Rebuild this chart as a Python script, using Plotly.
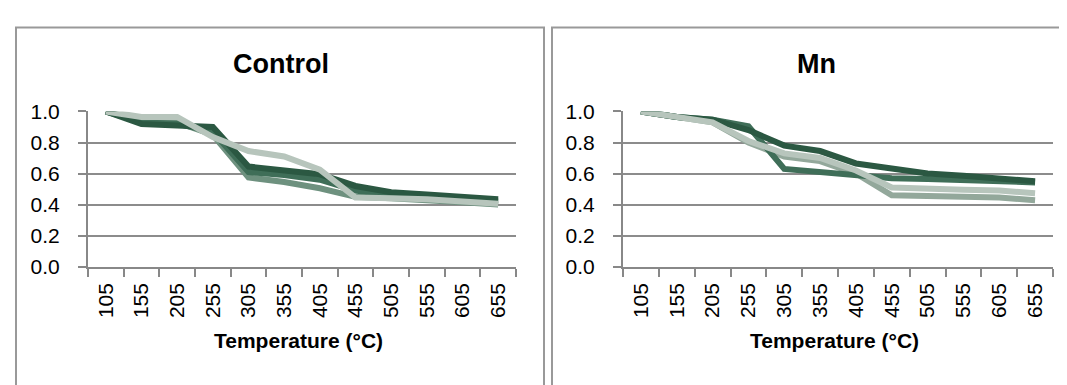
import plotly.graph_objects as go

W, H = 1067, 385

temps = ["105", "155", "205", "255", "305", "355", "405", "455", "505", "555", "605", "655"]

# Control panel series
ctrl_1 = [1.0, 0.92, 0.91, 0.90, 0.645, 0.62, 0.595, 0.52, 0.48, 0.465, 0.45, 0.435]
ctrl_2 = [1.0, 0.93, 0.92, 0.87, 0.61, 0.59, 0.56, 0.49, 0.46, 0.45, 0.435, 0.42]
ctrl_3 = [1.0, 0.94, 0.93, 0.85, 0.575, 0.545, 0.505, 0.45, 0.44, 0.43, 0.415, 0.40]
ctrl_4 = [1.0, 0.965, 0.965, 0.835, 0.745, 0.71, 0.625, 0.445, 0.44, 0.435, 0.42, 0.405]

# Mn panel series
mn_1 = [1.0, 0.965, 0.947, 0.88, 0.78, 0.745, 0.665, 0.63, 0.60, 0.585, 0.57, 0.55]
mn_2 = [1.0, 0.965, 0.947, 0.905, 0.63, 0.61, 0.59, 0.57, 0.565, 0.56, 0.55, 0.543]
mn_3 = [1.0, 0.963, 0.93, 0.81, 0.73, 0.70, 0.62, 0.51, 0.50, 0.495, 0.49, 0.473]
mn_4 = [1.0, 0.963, 0.93, 0.80, 0.71, 0.68, 0.60, 0.46, 0.455, 0.45, 0.445, 0.428]

y_ticks = [0.0, 0.2, 0.4, 0.6, 0.8, 1.0]

DARK = "#2b5842"
DARK2 = "#3f6e58"
MED = "#6e917f"
MEDGRAY = "#93a89b"
LIGHT = "#b7c5bc"

LW = 6

fig = go.Figure()

def add(x, y, color, xa, ya):
    fig.add_trace(go.Scatter(x=x, y=y, mode="lines", line=dict(color=color, width=LW),
                             xaxis=xa, yaxis=ya, showlegend=False, hoverinfo="skip"))

# Control
add(temps, ctrl_3, MED, "x", "y")
add(temps, ctrl_2, DARK2, "x", "y")
add(temps, ctrl_1, DARK, "x", "y")
add(temps, ctrl_4, LIGHT, "x", "y")
# Mn
add(temps, mn_4, MEDGRAY, "x2", "y2")
add(temps, mn_2, DARK2, "x2", "y2")
add(temps, mn_1, DARK, "x2", "y2")
add(temps, mn_3, LIGHT, "x2", "y2")

def px(x):
    return x / W

def py(y):
    return (H - y) / H

AX = "#888888"
GRID = "#8c8c8c"
SANS = "Liberation Sans, Arial, sans-serif"
TICKFONT = dict(family=SANS, size=21, color="black")

ydom = [py(262.3), py(97.3)]

xcommon = dict(type="category", tickson="boundaries", ticks="outside", ticklen=8, tickwidth=2,
               tickcolor=AX, showline=True, linecolor=AX, linewidth=2, showgrid=False,
               tickangle=-90, tickfont=TICKFONT, range=[-0.5, 11.5], fixedrange=True,
               categoryorder="array", categoryarray=temps, ticklabelstandoff=6)
ycommon = dict(range=[0, 1.0], tickvals=y_ticks, tickformat=".1f", ticks="outside", ticklen=8,
               tickwidth=2, tickcolor=AX, showline=True, linecolor=AX, linewidth=2,
               showgrid=True, gridcolor=GRID, gridwidth=1.5, zeroline=False, tickfont=TICKFONT,
               domain=ydom, fixedrange=True, ticklabelstandoff=14)

fig.update_layout(
    width=W, height=H,
    margin=dict(l=0, r=0, t=0, b=0),
    paper_bgcolor="white", plot_bgcolor="white",
    xaxis=dict(domain=[px(80), px(508)], anchor="y", **xcommon),
    yaxis=dict(anchor="x", **ycommon),
    xaxis2=dict(domain=[px(615), px(1045)], anchor="y2", **xcommon),
    yaxis2=dict(anchor="x2", **ycommon),
)

# panel borders
BORDER = "#999999"
fig.add_shape(type="rect", xref="paper", yref="paper", x0=px(8), x1=px(536), y0=py(400), y1=py(8),
              line=dict(color=BORDER, width=2), layer="below")
fig.add_shape(type="rect", xref="paper", yref="paper", x0=px(544), x1=px(1080), y0=py(400), y1=py(8),
              line=dict(color=BORDER, width=2), layer="below")

# titles
fig.add_annotation(text="<b>Control</b>", xref="paper", yref="paper", x=px(273), y=py(47),
                   xanchor="center", yanchor="middle", showarrow=False,
                   font=dict(family=SANS, size=27, color="black"))
fig.add_annotation(text="<b>Mn</b>", xref="paper", yref="paper", x=px(808), y=py(47),
                   xanchor="center", yanchor="middle", showarrow=False,
                   font=dict(family=SANS, size=27, color="black"))
fig.add_annotation(text="<b>Temperature (°C)</b>", xref="paper", yref="paper", x=px(290), y=py(341),
                   xanchor="center", yanchor="middle", showarrow=False,
                   font=dict(family=SANS, size=21, color="black"))
fig.add_annotation(text="<b>Temperature (°C)</b>", xref="paper", yref="paper", x=px(826), y=py(341),
                   xanchor="center", yanchor="middle", showarrow=False,
                   font=dict(family=SANS, size=21, color="black"))

fig.write_html("out.html")
